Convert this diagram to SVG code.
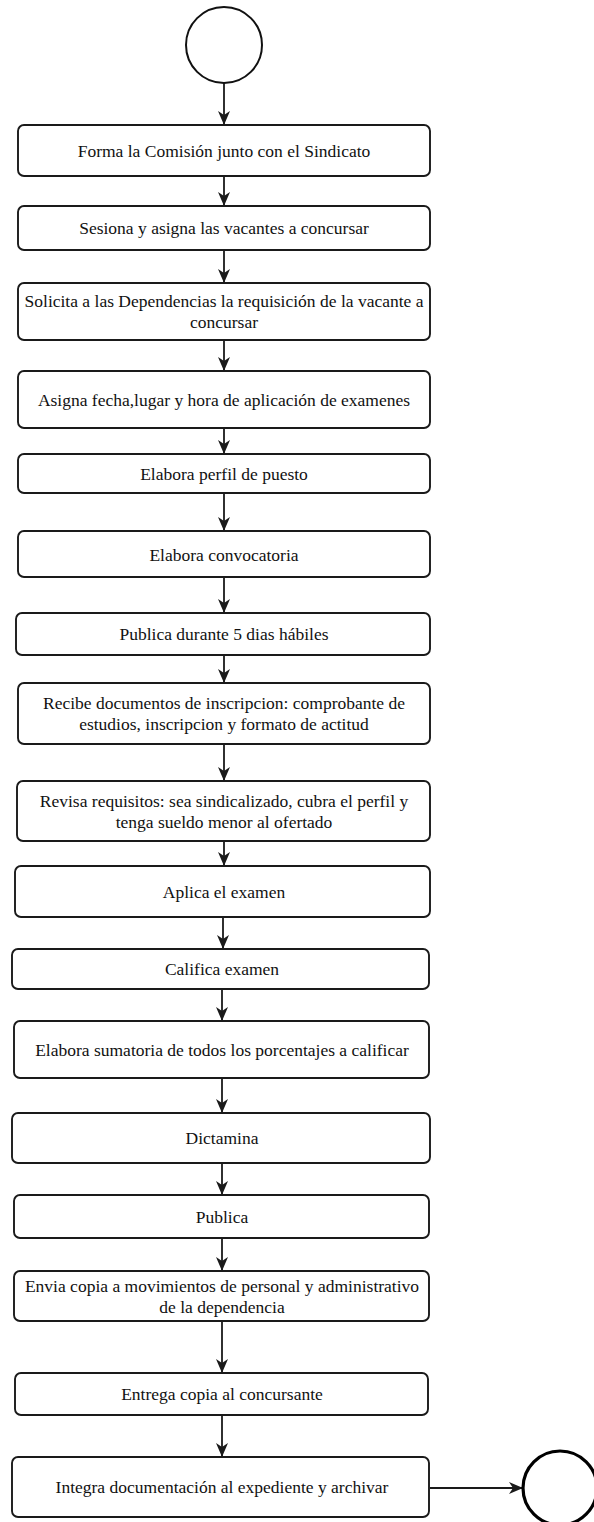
<svg xmlns="http://www.w3.org/2000/svg" width="594" height="1522" viewBox="0 0 594 1522">
<style>
.box{fill:#fff;stroke:#1a1a1a;stroke-width:1.9}
.t{font-family:"Liberation Serif","Times New Roman",serif;font-size:17.5px;fill:#111;text-anchor:middle}
.c{fill:none;stroke:#111;stroke-width:2}
.e{fill:none;stroke:#000;stroke-width:3.2}
.ln{stroke:#1a1a1a;stroke-width:1.8;fill:none;marker-end:url(#ah)}
</style>
<defs>
<marker id="ah" viewBox="0 0 14 12" refX="14" refY="6" markerWidth="14" markerHeight="12" markerUnits="userSpaceOnUse" orient="auto">
<path d="M0,0 L14,6 L0,12 L4,6 z" fill="#1a1a1a"/>
</marker>
</defs>
<rect width="594" height="1522" fill="#fff"/>
<g id="connectors">
<line class="ln" x1="224" y1="83" x2="224" y2="125"/>
<line class="ln" x1="224" y1="176" x2="224" y2="206"/>
<line class="ln" x1="224" y1="250" x2="224" y2="283"/>
<line class="ln" x1="224" y1="340" x2="224" y2="371"/>
<line class="ln" x1="224" y1="428" x2="224" y2="454"/>
<line class="ln" x1="224" y1="493" x2="224" y2="531"/>
<line class="ln" x1="224" y1="577" x2="224" y2="613"/>
<line class="ln" x1="224" y1="655" x2="224" y2="683"/>
<line class="ln" x1="224" y1="744" x2="224" y2="781"/>
<line class="ln" x1="224" y1="841" x2="224" y2="866"/>
<line class="ln" x1="223" y1="917" x2="223" y2="949"/>
<line class="ln" x1="222" y1="989" x2="222" y2="1021"/>
<line class="ln" x1="222" y1="1078" x2="222" y2="1113"/>
<line class="ln" x1="222" y1="1163" x2="222" y2="1195"/>
<line class="ln" x1="222" y1="1238" x2="222" y2="1271"/>
<line class="ln" x1="222" y1="1321" x2="222" y2="1373"/>
<line class="ln" x1="222" y1="1415" x2="222" y2="1457"/>
<line class="ln" x1="430" y1="1488" x2="523" y2="1488"/>
</g>
<g id="start"><circle class="c" cx="224" cy="45" r="38"/></g>
<g id="n1"><rect class="box" x="18" y="125" width="412" height="51" rx="6"/><text class="t" x="224" y="157">Forma la Comisión junto con el Sindicato</text></g>
<g id="n2"><rect class="box" x="18" y="206" width="412" height="44" rx="6"/><text class="t" x="224" y="234">Sesiona y asigna las vacantes a concursar</text></g>
<g id="n3"><rect class="box" x="18" y="283" width="412" height="57" rx="6"/><text class="t" x="224" y="307">Solicita a las Dependencias la requisición de la vacante a</text><text class="t" x="224" y="328">concursar</text></g>
<g id="n4"><rect class="box" x="18" y="371" width="412" height="57" rx="6"/><text class="t" x="224" y="406">Asigna fecha,lugar y hora de aplicación de examenes</text></g>
<g id="n5"><rect class="box" x="18" y="454" width="412" height="39" rx="6"/><text class="t" x="224" y="480">Elabora perfil de puesto</text></g>
<g id="n6"><rect class="box" x="18" y="531" width="412" height="46" rx="6"/><text class="t" x="224" y="561">Elabora convocatoria</text></g>
<g id="n7"><rect class="box" x="16" y="613" width="414" height="42" rx="6"/><text class="t" x="224" y="640">Publica durante 5 dias hábiles</text></g>
<g id="n8"><rect class="box" x="18" y="683" width="412" height="61" rx="6"/><text class="t" x="224" y="709">Recibe documentos de inscripcion: comprobante de</text><text class="t" x="224" y="730">estudios, inscripcion y formato de actitud</text></g>
<g id="n9"><rect class="box" x="17" y="781" width="413" height="60" rx="6"/><text class="t" x="224" y="807">Revisa requisitos: sea sindicalizado, cubra el perfil y</text><text class="t" x="224" y="828">tenga sueldo menor al ofertado</text></g>
<g id="n10"><rect class="box" x="15" y="866" width="415" height="51" rx="6"/><text class="t" x="224" y="898">Aplica el examen</text></g>
<g id="n11"><rect class="box" x="12" y="949" width="417" height="40" rx="6"/><text class="t" x="222" y="975">Califica examen</text></g>
<g id="n12"><rect class="box" x="14" y="1021" width="415" height="57" rx="6"/><text class="t" x="222" y="1056">Elabora sumatoria de todos los porcentajes a calificar</text></g>
<g id="n13"><rect class="box" x="12" y="1113" width="418" height="50" rx="6"/><text class="t" x="222" y="1144">Dictamina</text></g>
<g id="n14"><rect class="box" x="14" y="1195" width="415" height="43" rx="6"/><text class="t" x="222" y="1223">Publica</text></g>
<g id="n15"><rect class="box" x="14" y="1271" width="415" height="50" rx="6"/><text class="t" x="222" y="1292">Envia copia a movimientos de personal y administrativo</text><text class="t" x="222" y="1313">de la dependencia</text></g>
<g id="n16"><rect class="box" x="15" y="1373" width="413" height="42" rx="6"/><text class="t" x="222" y="1400">Entrega copia al concursante</text></g>
<g id="n17"><rect class="box" x="12" y="1457" width="417" height="60" rx="6"/><text class="t" x="222" y="1493">Integra documentación al expediente y archivar</text></g>
<g id="end"><circle class="e" cx="560" cy="1488" r="37"/></g>
</svg>
